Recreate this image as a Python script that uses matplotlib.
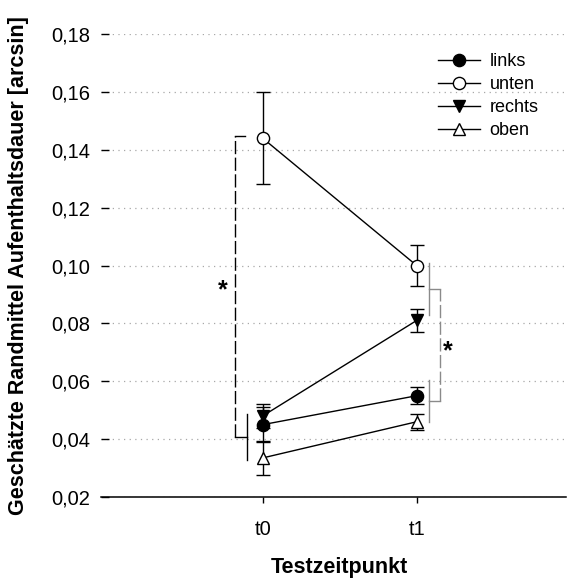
import matplotlib
matplotlib.use("Agg")
import matplotlib.pyplot as plt
import matplotlib.transforms as mtransforms
from matplotlib.lines import Line2D
from matplotlib.ticker import FuncFormatter

plt.rcParams["font.family"] = ["Liberation Sans", "DejaVu Sans"]

# Estimated marginal means (arcsin-transformed dwell time) and their errors
zeitpunkte = ["t0", "t1"]
links = [0.045, 0.055]
links_err = [0.006, 0.003]
unten = [0.144, 0.100]
unten_err = [0.016, 0.007]
rechts = [0.048, 0.081]
rechts_err = [0.004, 0.004]
oben = [0.0335, 0.046]
oben_err = [0.0058, 0.0028]
y_ticks = [0.02, 0.04, 0.06, 0.08, 0.10, 0.12, 0.14, 0.16, 0.18]

W, H = 567, 579
fig = plt.figure(figsize=(W / 100, H / 100), dpi=100)
ax = fig.add_axes([101 / W, 1 - 497 / H, (566 - 101) / W, (497 - 34) / H])

x = list(range(len(zeitpunkte)))
series = [
    ("links", links, links_err, "o", "black"),
    ("unten", unten, unten_err, "o", "white"),
    ("rechts", rechts, rechts_err, "v", "black"),
    ("oben", oben, oben_err, "^", "white"),
]
marker_kw = dict(markersize=8.8, markeredgecolor="black", markeredgewidth=1.0)
handles = []
for label, vals, errs, marker, face in series:
    ax.errorbar(x, vals, yerr=errs, color="black", lw=1.0, elinewidth=1.0,
                capsize=4.8, capthick=1.0, marker=marker,
                markerfacecolor=face, zorder=3, **marker_kw)
    handles.append(Line2D([], [], color="black", lw=1.0, marker=marker,
                          markerfacecolor=face, label=label, **marker_kw))

ax.set_xlim(-1.05, 1.97)
ax.set_ylim(0.02, 0.18)
ax.set_xticks(x)
ax.set_xticklabels(zeitpunkte)
ax.set_yticks(y_ticks)
ax.yaxis.set_major_formatter(FuncFormatter(lambda v, p: f"{v:.2f}".replace(".", ",")))

for side in ("left", "top", "right"):
    ax.spines[side].set_visible(False)
ax.spines["bottom"].set_linewidth(1.1)
ax.tick_params(axis="y", direction="in", length=6, width=1.0, pad=8, labelsize=14.5)
ax.tick_params(axis="x", direction="out", length=4.5, width=1.0, pad=12, labelsize=14.5)
ax.yaxis.grid(True, color="#a8a8a8", linestyle=(0, (1, 3.5)), linewidth=0.9)
ax.set_axisbelow(True)

# Significance brackets (left: t0 unten vs. the others, right: t1 unten/rechts vs. links/oben)
lower_t0 = [links[0], rechts[0], oben[0]]
lo0, hi0 = min(lower_t0) - 0.0008, max(lower_t0) + 0.0008
mid0 = (lo0 + hi0) / 2
xl_dash, xl_solid = x[0] - 0.178, x[0] - 0.105
top0 = unten[0] + 0.0008
ax.plot([xl_solid, xl_solid], [lo0, hi0], color="black", lw=1.0)
ax.plot([xl_dash, xl_solid], [mid0, mid0], color="black", lw=1.0)
ax.plot([xl_dash, x[0] - 0.113], [top0, top0], color="black", lw=1.0)
ax.plot([xl_dash, xl_dash], [mid0, top0], color="black", lw=1.0, dashes=(9.5, 2.5))
ax.text(x[0] - 0.262, 0.0915, "*", fontsize=18, fontweight="bold", ha="center", va="center")

grey = "#8a8a8a"
up_lo, up_hi = rechts[1] + 0.0019, unten[1] + 0.0008
dn_lo, dn_hi = oben[1] - 0.0002, links[1] + 0.0054
up_mid, dn_mid = (up_lo + up_hi) / 2, (dn_lo + dn_hi) / 2
xr_solid, xr_dash = x[1] + 0.08, x[1] + 0.151
ax.plot([xr_solid, xr_solid], [up_lo, up_hi], color=grey, lw=1.0)
ax.plot([xr_solid, xr_solid], [dn_lo, dn_hi], color=grey, lw=1.0)
ax.plot([xr_solid, xr_dash], [up_mid, up_mid], color=grey, lw=1.0)
ax.plot([xr_solid, xr_dash], [dn_mid, dn_mid], color=grey, lw=1.0)
ax.plot([xr_dash, xr_dash], [dn_mid, up_mid], color=grey, lw=1.0, dashes=(9.5, 2.5))
ax.text(x[1] + 0.205, 0.0702, "*", fontsize=18, fontweight="bold", ha="center", va="center")

ax.set_ylabel("Geschätzte Randmittel Aufenthaltsdauer [arcsin]", fontsize=15.5,
              fontweight="bold", va="center")
ax.yaxis.set_label_coords((19 - 101) / (566 - 101), 0.5)
ax.set_xlabel("Testzeitpunkt", fontsize=15.5, fontweight="bold", va="center")
ax.xaxis.set_label_coords(0.5, (497 - 567) / (497 - 34),
                          transform=mtransforms.blended_transform_factory(ax.transData, ax.transAxes))

ax.legend(handles=handles, frameon=False, loc="upper left",
          bbox_to_anchor=(438 / W, 1 - 53 / H), bbox_transform=fig.transFigure,
          borderpad=0, borderaxespad=0, handlelength=2.35, handletextpad=0.5,
          labelspacing=0.33, fontsize=13, numpoints=1)

fig.savefig("out.png", dpi=100)
